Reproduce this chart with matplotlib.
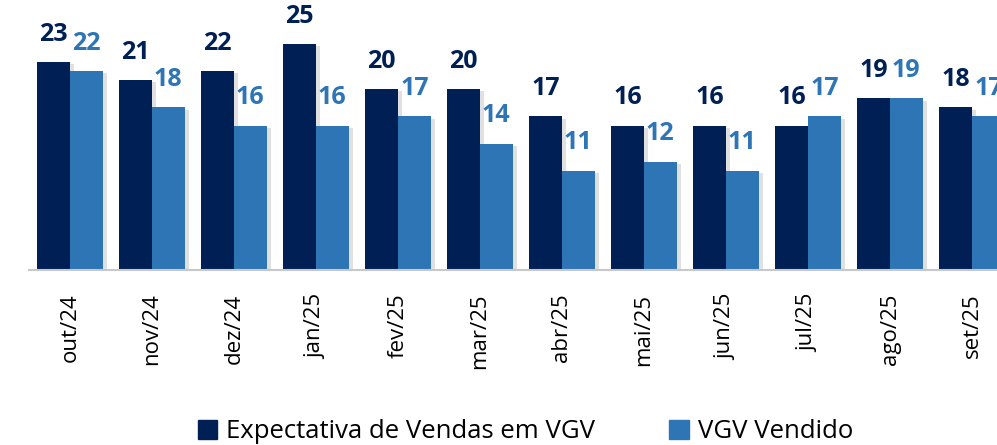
import matplotlib.pyplot as plt
import matplotlib.patheffects as pe
from matplotlib.patches import Patch
import numpy as np

meses = ["out/24", "nov/24", "dez/24", "jan/25", "fev/25", "mar/25",
         "abr/25", "mai/25", "jun/25", "jul/25", "ago/25", "set/25"]
expectativa = [23, 21, 22, 25, 20, 20, 17, 16, 16, 16, 19, 18]
vendido = [22, 18, 16, 16, 17, 14, 11, 12, 11, 17, 19, 17]

escuro = "#002055"
claro = "#2E75B6"

plt.rcParams['font.family'] = ['Open Sans', 'DejaVu Sans']

fig = plt.figure(figsize=(9.97, 4.45), dpi=100)
# the original image is cut at the right, so the axes go past the edge
ax = fig.add_axes([29 / 997, 1 - 270 / 445, 984 / 997, 270 / 445])

x = np.arange(len(meses))
w = 0.397
sombra = [pe.SimplePatchShadow(offset=(3, -1.5), shadow_rgbFace="#909090", alpha=0.28), pe.Normal()]
b1 = ax.bar(x - w / 2, expectativa, w, color=escuro, path_effects=sombra)
b2 = ax.bar(x + w / 2, vendido, w, color=claro, path_effects=sombra)

ax.bar_label(b1, padding=11, color=escuro, fontsize=18, fontweight="bold")
ax.bar_label(b2, padding=11, color=claro, fontsize=18, fontweight="bold")

ax.set_xlim(-0.5, len(meses) - 0.5)
ax.set_ylim(0, 29.9)
ax.set_xticks(x)
ax.set_xticklabels(meses, rotation=90, fontsize=16)
ax.tick_params(axis="x", length=0, pad=17)
ax.set_yticks([])
for s in ["top", "right", "left"]:
    ax.spines[s].set_visible(False)
ax.spines["bottom"].set_color("#c8c8c8")
ax.spines["bottom"].set_linewidth(1.5)

h = [Patch(color=escuro), Patch(color=claro)]
l = ["Expectativa de Vendas em VGV", "VGV Vendido"]
fig.legend(h, l, loc="center", bbox_to_anchor=(0.527, 0.03), ncol=2, frameon=False,
           fontsize=18.5, handlelength=0.75, handleheight=0.75, handletextpad=0.35,
           columnspacing=2.9)

fig.savefig("out.png", dpi=100)
